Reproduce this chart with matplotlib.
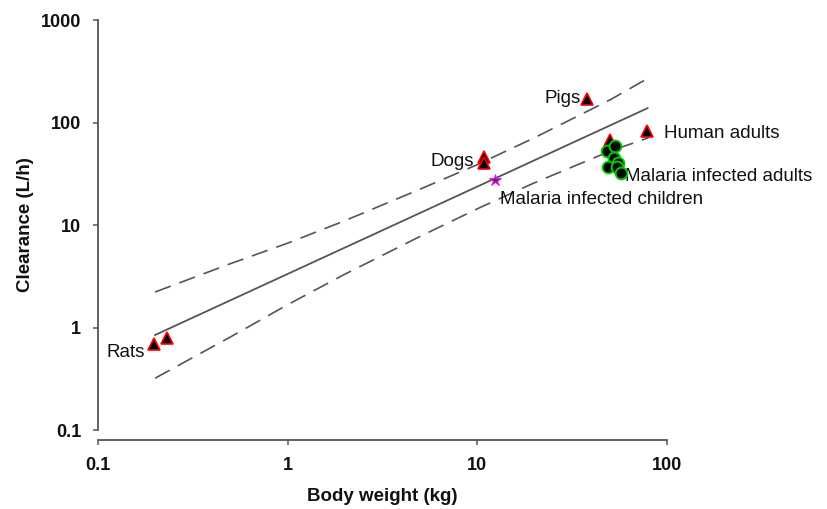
import matplotlib
matplotlib.use("Agg")
import matplotlib.pyplot as plt
from matplotlib.ticker import FixedLocator, FixedFormatter, NullLocator

plt.rcParams['font.family'] = ['Liberation Sans', 'DejaVu Sans']

# Observed clearance (L/h) vs body weight (kg)
rat_w = [0.197, 0.231]
rat_cl = [0.69, 0.79]
dog_w = [10.8, 10.8]
dog_cl = [46, 40.3]
pig_w = [38]
pig_cl = [170]
human_w = [78.9, 49.8]
human_cl = [82.6, 67.5]
malaria_adult_w = [48.5, 53.5, 52.8, 55.5, 49.1, 54.8, 56.9]
malaria_adult_cl = [52.7, 59, 45, 40, 36.8, 36.8, 32]
malaria_child_w = [12.4]
malaria_child_cl = [27.5]

# Allometric fit and its prediction band
fit_w = [0.2, 79]
fit_cl = [0.845, 138]
band_w = [0.2, 0.5, 1, 2, 5, 10, 20, 50, 80]
band_upper = [2.22, 4.2, 6.65, 11.0, 22.4, 38.8, 71, 166, 272]
band_lower = [0.32, 0.81, 1.67, 3.31, 7.75, 14.4, 25.8, 52.5, 71]

x_ticks = [0.1, 1, 10, 100]
x_tick_labels = ['0.1', '1', '10', '100']
y_ticks = [0.1, 1, 10, 100, 1000]
y_tick_labels = ['0.1', '1', '10', '100', '1000']

fig = plt.figure(figsize=(8.27, 5.09), dpi=100)
ax = fig.add_axes([0.1185, 0.1552, 0.688, 0.8055])
ax.set_xscale('log')
ax.set_yscale('log')
ax.set_xlim(0.1, 100)
ax.set_ylim(0.1, 1000)

axis_color = '#555555'
ax.plot(fit_w, fit_cl, color=axis_color, lw=1.3, zorder=2)
for band in (band_upper, band_lower):
    ax.plot(band_w, band, color=axis_color, lw=1.2, dashes=(10, 5.5), zorder=2)

tri = dict(marker='^', ls='none', ms=8, mfc='black', mec='red', mew=1.2, zorder=4)
ax.plot(human_w, human_cl, **tri)
ax.plot(rat_w, rat_cl, **tri)
ax.plot(dog_w, dog_cl, **tri)
ax.plot(pig_w, pig_cl, **tri)
ax.plot(malaria_adult_w, malaria_adult_cl, marker='o', ls='none', ms=8.5,
        mfc='black', mec='#00cc00', mew=1.4, zorder=5)
ax.plot(malaria_child_w, malaria_child_cl, marker='*', ls='none', ms=9,
        mfc='#9900aa', mec='#cc33cc', mew=0.8, zorder=5)

lab = dict(fontsize=13.5, color='#111111')
ax.text(0.177, 0.515, 'Rats', ha='right', va='baseline', **lab)
ax.text(9.64, 37.7, 'Dogs', ha='right', va='baseline', **lab)
ax.text(35, 155, 'Pigs', ha='right', va='baseline', **lab)
ax.text(97, 70.6, 'Human adults', ha='left', va='baseline', **lab)
ax.text(60.4, 26.9, 'Malaria infected adults', ha='left', va='baseline', **lab)
ax.text(13.2, 16.0, 'Malaria infected children', ha='left', va='baseline', **lab)

for side in ('top', 'right'):
    ax.spines[side].set_visible(False)
for side in ('left', 'bottom'):
    ax.spines[side].set_color(axis_color)
    ax.spines[side].set_linewidth(1.3)
ax.spines['bottom'].set_position(('outward', 7.2))

ax.xaxis.set_major_locator(FixedLocator(x_ticks))
ax.xaxis.set_major_formatter(FixedFormatter(x_tick_labels))
ax.yaxis.set_major_locator(FixedLocator(y_ticks))
ax.yaxis.set_major_formatter(FixedFormatter(y_tick_labels))
ax.xaxis.set_minor_locator(NullLocator())
ax.yaxis.set_minor_locator(NullLocator())
ax.tick_params(axis='both', direction='out', length=3.6, width=1.1,
               color=axis_color, labelsize=13, labelcolor='#111111', pad=8.5)
for t in ax.get_xticklabels() + ax.get_yticklabels():
    t.set_fontweight('bold')

ax.set_xlabel('Body weight (kg)', fontsize=13.5, fontweight='bold', labelpad=10,
              color='#111111')
ax.set_ylabel('Clearance (L/h)', fontsize=13.5, fontweight='bold', labelpad=5,
              color='#111111')

fig.savefig('out.png', dpi=100)
